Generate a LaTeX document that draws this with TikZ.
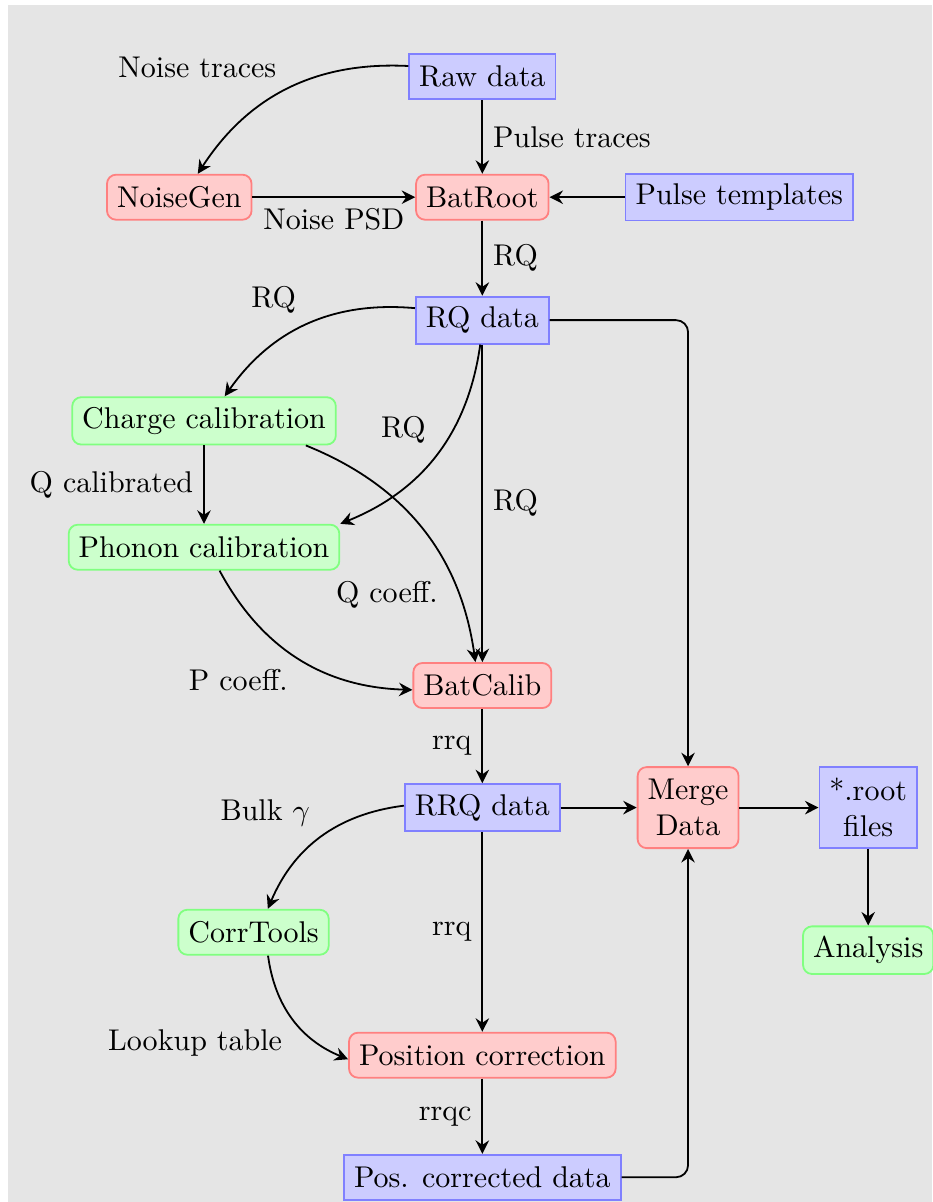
\documentclass[tikz,border=0pt]{standalone}
\usepackage{tikz}
\usetikzlibrary{arrows.meta}

\begin{document}
\begin{tikzpicture}[semithick,>={Stealth[length=4.5pt,width=4.5pt,inset=1.5pt]},
    data/.style={draw=blue!50,fill=blue!20,minimum height=15pt},
    proc/.style={draw=red!50,fill=red!20,rounded corners=3pt,minimum height=15pt},
    calib/.style={draw=green!50,fill=green!20,rounded corners=3pt,minimum height=15pt}]
\useasboundingbox (0,0) rectangle (10.92,-14.08);
\fill[gray!20] (0.09,-0.06) rectangle (10.92,-14.08);

\path
    ( 5.65, -0.90) node [data]  (raw)       {Raw data}
    ( 2.10, -2.31) node [proc]  (noisegen)  {NoiseGen}
    ( 5.65, -2.31) node [proc]  (batroot)   {BatRoot}
    ( 8.66, -2.31) node [data]  (templates) {Pulse templates}
    ( 5.65, -3.75) node [data]  (rqdata)    {RQ data}
    ( 2.39, -4.93) node [calib] (charge)    {Charge calibration}
    ( 2.39, -6.41) node [calib] (phonon)    {Phonon calibration}
    ( 5.65, -8.03) node [proc]  (batcalib)  {BatCalib}
    ( 5.65, -9.46) node [data]  (rrqdata)   {RRQ data}
    ( 8.06, -9.46) node [proc,align=center,minimum height=27pt] (merge)     {Merge\\Data}
    (10.17, -9.46) node [data,align=center,minimum height=27pt] (rootfiles) {*.root\\files}
    (10.17,-11.13) node [calib] (analysis)  {Analysis}
    ( 2.97,-10.92) node [calib] (corrtools) {CorrTools}
    ( 5.65,-12.36) node [proc]  (poscorr)   {Position correction}
    ( 5.65,-13.79) node [data]  (posdata)   {Pos. corrected data};

\path[->]
    (raw)       edge [bend right] node [above left] {Noise traces} (noisegen)
                edge node [right] {Pulse traces} (batroot)
    (noisegen)  edge node [below] {Noise PSD} (batroot)
    (templates) edge (batroot)
    (batroot)   edge node [right] {RQ} (rqdata)
    (rqdata)    edge [bend right] node [above left] {RQ} (charge)
                edge [bend left] node [above left] {RQ} (phonon.north east)
                edge node [right] {RQ} (batcalib)
    (charge)    edge node [left] {Q calibrated} (phonon)
                edge [bend left] node [pos=.68,below left] {Q coeff.} (batcalib)
    (phonon)    edge [bend right] node [below left] {P coeff.} (batcalib)
    (batcalib)  edge node [left] {rrq} (rrqdata)
    (rrqdata)   edge (merge)
                edge [bend right] node [above left] {Bulk $\gamma$} (corrtools)
                edge node [left] {rrq} (poscorr)
    (merge)     edge (rootfiles)
    (rootfiles) edge (analysis)
    (corrtools) edge [bend right] node [below left] {Lookup table} (poscorr)
    (poscorr)   edge node [left] {rrqc} (posdata);
\draw[->,rounded corners=4pt]
    (rqdata) -| (merge);
\draw[->,rounded corners=4pt]
    (posdata) -| (merge);
\end{tikzpicture}
\end{document}
